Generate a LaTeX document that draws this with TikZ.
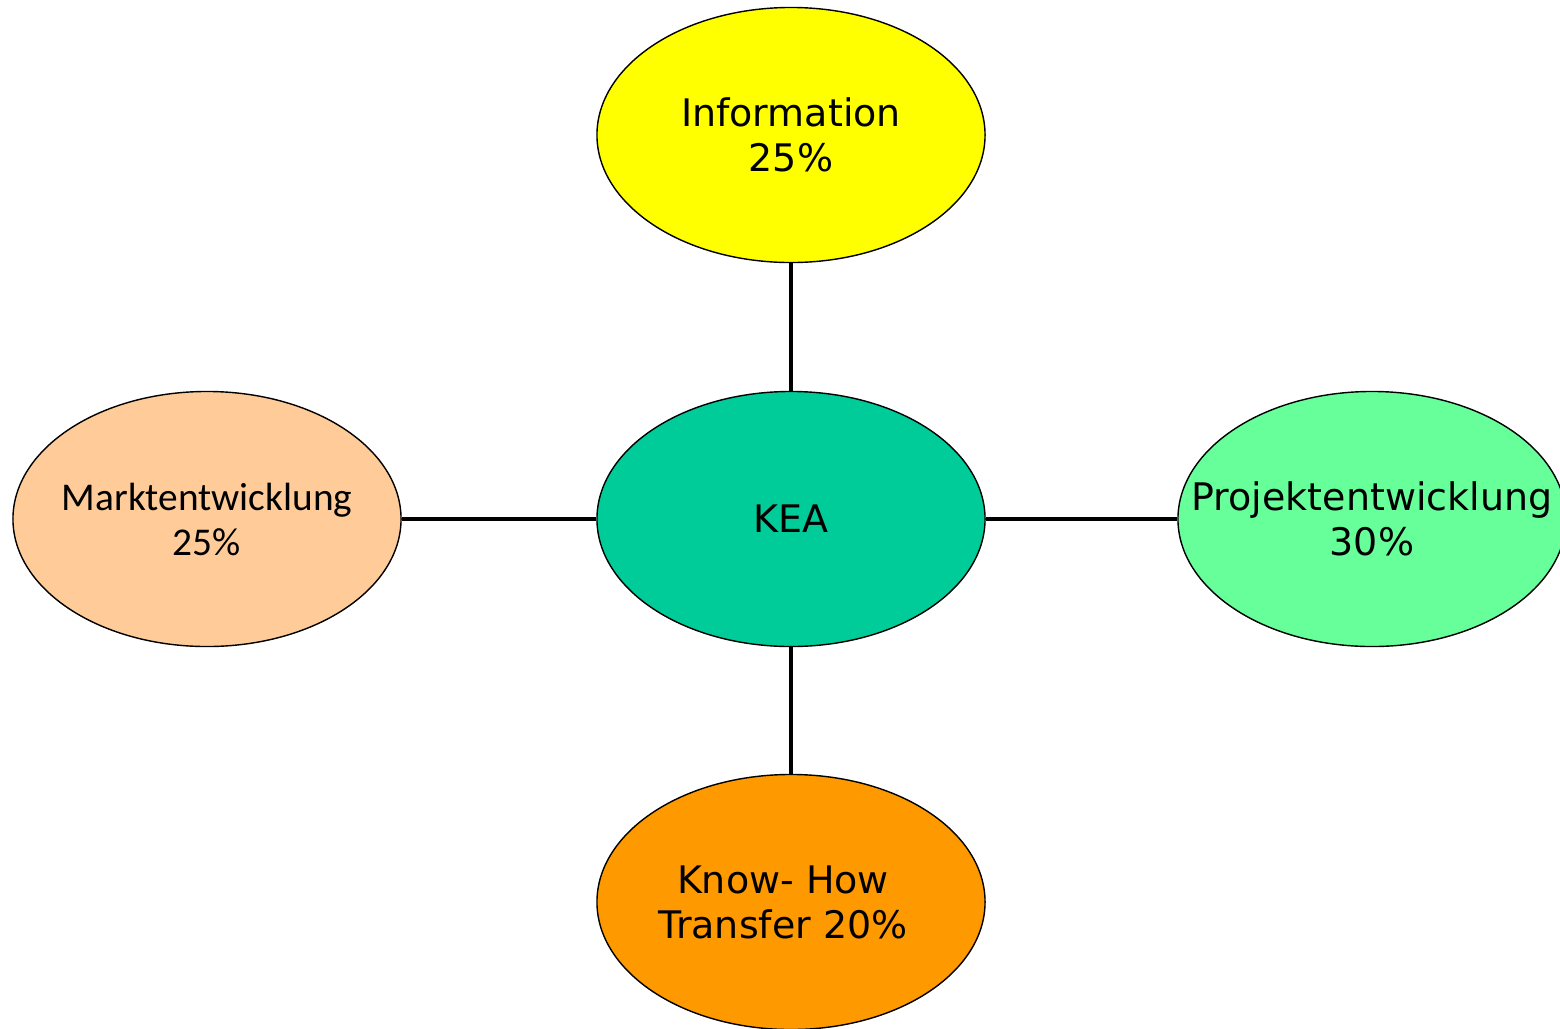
\documentclass[tikz,border=0pt]{standalone}
\usepackage{fontspec}
\setmainfont{DejaVu Sans}
\newfontfamily\calfont{Carlito}
\usetikzlibrary{shapes.geometric}

\definecolor{infoyellow}{HTML}{FFFF00}
\definecolor{keagreen}{HTML}{00CC99}
\definecolor{projgreen}{HTML}{66FF99}
\definecolor{marktorange}{HTML}{FFCC99}
\definecolor{knoworange}{HTML}{FF9900}

\begin{document}
\begin{tikzpicture}[
  x=0.025cm,y=-0.025cm,
  field/.style={ellipse,draw=black,line width=1pt,minimum width=9.7cm,minimum height=6.375cm,inner sep=0pt},
  fieldtext/.style={align=center,inner sep=0pt,font=\fontsize{27}{32}\selectfont},
  link/.style={line width=3.4pt,black}
]

\useasboundingbox (0,0) rectangle (1560,1028);

\node[field,fill=keagreen] (kea) at (791,519) {};
\node[field,fill=infoyellow] (info) at (791,135) {};
\node[field,fill=marktorange] (markt) at (207,519) {};
\node[field,fill=projgreen] (proj) at (1372,519) {};
\node[field,fill=knoworange] (know) at (791,902) {};

\node[fieldtext] (keatext) at (kea) {KEA};
\node[fieldtext] (infotext) at (info) {Information\\25\%};
\node[fieldtext,font=\calfont\fontsize{28}{32}\selectfont] (markttext) at (markt) {Marktentwicklung\\25\%};
\node[fieldtext] (projtext) at (proj) {Projektentwicklung\\30\%};
\node[fieldtext] (knowtext) at ([xshift=-0.2cm]know) {Know- How\\Transfer 20\%};

\draw[link] (kea) -- (info);
\draw[link] (kea) -- (markt);
\draw[link] (kea) -- (proj);
\draw[link] (kea) -- (know);

\end{tikzpicture}
\end{document}
